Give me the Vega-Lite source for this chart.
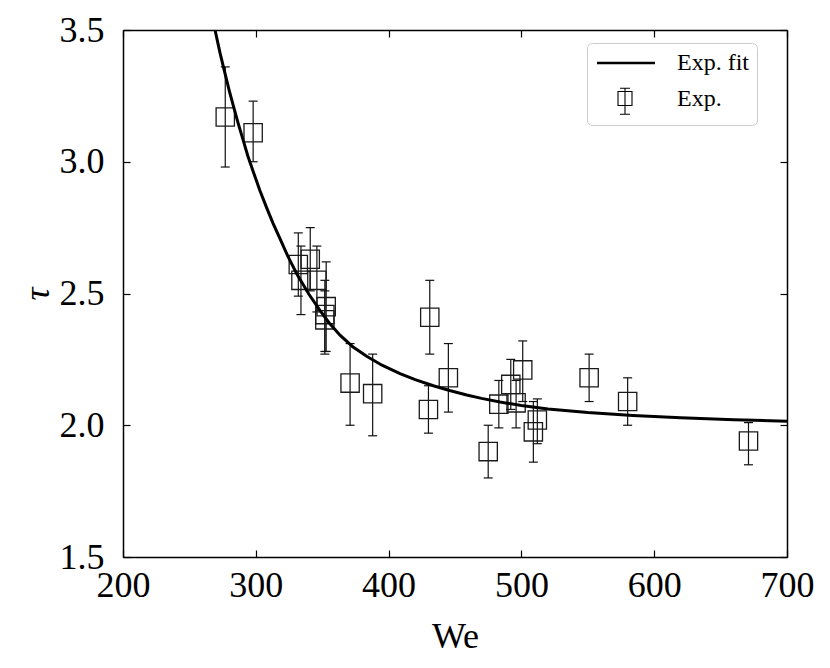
{
  "$schema": "https://vega.github.io/schema/vega-lite/v6.json",
  "width": 664,
  "height": 527,
  "autosize": {"type": "none"},
  "padding": {"left": 123, "top": 30, "right": 43, "bottom": 111},
  "background": "white",
  "config": {
    "view": {"stroke": null},
    "font": "Liberation Serif",
    "axis": {
      "domainColor": "black",
      "domainWidth": 1.5,
      "tickColor": "black",
      "tickWidth": 1.2,
      "tickSize": -7,
      "grid": false,
      "labelFont": "Liberation Serif",
      "labelFontSize": 36,
      "labelColor": "black",
      "titleFont": "Liberation Serif",
      "titleFontSize": 36,
      "titleFontWeight": "normal",
      "titleColor": "black",
      "labelFlush": false,
      "labelOverlap": false
    },
    "legend": {
      "labelFont": "Liberation Serif",
      "labelFontSize": 24,
      "labelColor": "black"
    }
  },
  "datasets": {
    "exp": [
      {"We": 277, "tau": 3.17, "lo": 2.98, "hi": 3.36},
      {"We": 298, "tau": 3.11, "lo": 3.00, "hi": 3.23},
      {"We": 332, "tau": 2.61, "lo": 2.49, "hi": 2.73},
      {"We": 334, "tau": 2.55, "lo": 2.42, "hi": 2.68},
      {"We": 341, "tau": 2.63, "lo": 2.51, "hi": 2.75},
      {"We": 346, "tau": 2.55, "lo": 2.43, "hi": 2.68},
      {"We": 353, "tau": 2.45, "lo": 2.28, "hi": 2.62},
      {"We": 352, "tau": 2.42, "lo": 2.28, "hi": 2.55},
      {"We": 352, "tau": 2.40, "lo": 2.27, "hi": 2.51},
      {"We": 371, "tau": 2.16, "lo": 2.00, "hi": 2.31},
      {"We": 388, "tau": 2.12, "lo": 1.96, "hi": 2.27},
      {"We": 431, "tau": 2.41, "lo": 2.27, "hi": 2.55},
      {"We": 430, "tau": 2.06, "lo": 1.97, "hi": 2.15},
      {"We": 445, "tau": 2.18, "lo": 2.05, "hi": 2.31},
      {"We": 475, "tau": 1.90, "lo": 1.80, "hi": 2.00},
      {"We": 483, "tau": 2.08, "lo": 1.99, "hi": 2.17},
      {"We": 492, "tau": 2.155, "lo": 2.06, "hi": 2.25},
      {"We": 496, "tau": 2.085, "lo": 1.99, "hi": 2.17},
      {"We": 501, "tau": 2.21, "lo": 2.09, "hi": 2.32},
      {"We": 509, "tau": 1.975, "lo": 1.86, "hi": 2.09},
      {"We": 512, "tau": 2.02, "lo": 1.93, "hi": 2.10},
      {"We": 551, "tau": 2.18, "lo": 2.09, "hi": 2.27},
      {"We": 580, "tau": 2.09, "lo": 2.00, "hi": 2.18},
      {"We": 671, "tau": 1.94, "lo": 1.85, "hi": 2.01}
    ],
    "fit": [
      {"We": 269.3, "tau": 3.5},
      {"We": 273, "tau": 3.414},
      {"We": 276.8, "tau": 3.335},
      {"We": 280, "tau": 3.27},
      {"We": 283.1, "tau": 3.212},
      {"We": 287, "tau": 3.141},
      {"We": 290.6, "tau": 3.08},
      {"We": 294, "tau": 3.022},
      {"We": 298.1, "tau": 2.962},
      {"We": 303, "tau": 2.892},
      {"We": 308.2, "tau": 2.825},
      {"We": 313, "tau": 2.766},
      {"We": 318.2, "tau": 2.708},
      {"We": 324, "tau": 2.643},
      {"We": 330.8, "tau": 2.575},
      {"We": 340, "tau": 2.497},
      {"We": 348.3, "tau": 2.436},
      {"We": 355, "tau": 2.39},
      {"We": 363.4, "tau": 2.342},
      {"We": 373, "tau": 2.298},
      {"We": 383.5, "tau": 2.262},
      {"We": 395, "tau": 2.228},
      {"We": 408.6, "tau": 2.196},
      {"We": 420, "tau": 2.173},
      {"We": 433.7, "tau": 2.15},
      {"We": 446, "tau": 2.132},
      {"We": 458.8, "tau": 2.115},
      {"We": 470, "tau": 2.102},
      {"We": 483.9, "tau": 2.088},
      {"We": 500, "tau": 2.075},
      {"We": 520, "tau": 2.062},
      {"We": 550, "tau": 2.048},
      {"We": 584, "tau": 2.037},
      {"We": 620, "tau": 2.028},
      {"We": 660, "tau": 2.021},
      {"We": 700, "tau": 2.015}
    ]
  },
  "layer": [
    {
      "data": {"name": "exp"},
      "mark": {"type": "rule", "color": "#111111", "strokeWidth": 1.2},
      "encoding": {
        "x": {"field": "We", "type": "quantitative", "scale": {"domain": [200, 700], "nice": false, "zero": false}, "axis": null},
        "y": {"field": "lo", "type": "quantitative", "scale": {"domain": [1.5, 3.5], "nice": false, "zero": false}, "axis": null},
        "y2": {"field": "hi"}
      }
    },
    {
      "data": {"name": "exp"},
      "mark": {"type": "tick", "orient": "horizontal", "size": 9, "thickness": 1.2, "color": "#111111", "opacity": 1},
      "encoding": {
        "x": {"field": "We", "type": "quantitative", "axis": null},
        "y": {"field": "lo", "type": "quantitative", "axis": null}
      }
    },
    {
      "data": {"name": "exp"},
      "mark": {"type": "tick", "orient": "horizontal", "size": 9, "thickness": 1.2, "color": "#111111", "opacity": 1},
      "encoding": {
        "x": {"field": "We", "type": "quantitative", "axis": null},
        "y": {"field": "hi", "type": "quantitative", "axis": null}
      }
    },
    {
      "data": {"name": "exp"},
      "mark": {"type": "point", "shape": "square", "filled": false, "size": 335, "stroke": "#1a1a1a", "strokeWidth": 1.3, "opacity": 1},
      "encoding": {
        "x": {"field": "We", "type": "quantitative", "axis": {"orient": "bottom", "values": [200, 300, 400, 500, 600, 700], "format": "d", "title": "We", "labelPadding": 18, "titlePadding": 16}},
        "y": {"field": "tau", "type": "quantitative", "axis": {"orient": "left", "values": [1.5, 2.0, 2.5, 3.0, 3.5], "format": ".1f", "title": "τ", "titleFontStyle": "italic", "labelPadding": 26, "titlePadding": 3}}
      }
    },
    {
      "data": {"name": "fit"},
      "mark": {"type": "line", "color": "black", "strokeWidth": 3, "clip": true},
      "encoding": {
        "x": {"field": "We", "type": "quantitative", "axis": {"orient": "top", "values": [200, 300, 400, 500, 600, 700], "labels": false, "title": null}},
        "y": {"field": "tau", "type": "quantitative", "axis": {"orient": "right", "values": [1.5, 2.0, 2.5, 3.0, 3.5], "labels": false, "title": null}}
      }
    },
    {
      "data": {"values": []},
      "mark": {"type": "point", "filled": false, "color": "black", "opacity": 1},
      "encoding": {
        "shape": {
          "field": "series", "type": "nominal",
          "scale": {"domain": ["Exp. fit", "Exp."], "range": ["M-1.0,0H4.8", "M1.1,-0.7H2.5V0.7H1.1Z M1.8,-1.03V1.57 M1.3,-1.03H2.3 M1.3,1.57H2.3"]},
          "legend": {
            "orient": "none", "legendX": 464, "legendY": 13, "title": null,
            "fillColor": "white", "strokeColor": "#cccccc", "cornerRadius": 5, "padding": 8,
            "symbolSize": 400, "labelOffset": 58, "rowPadding": 10.5,
            "symbolStrokeColor": "black", "symbolFillColor": "transparent", "symbolOpacity": 1
          }
        },
        "strokeWidth": {
          "field": "series", "type": "nominal",
          "scale": {"domain": ["Exp. fit", "Exp."], "range": [2.5, 1.1]},
          "legend": {
            "orient": "none", "legendX": 464, "legendY": 13, "title": null,
            "fillColor": "white", "strokeColor": "#cccccc", "cornerRadius": 5, "padding": 8,
            "symbolSize": 400, "labelOffset": 58, "rowPadding": 10.5,
            "symbolStrokeColor": "black", "symbolFillColor": "transparent", "symbolOpacity": 1
          }
        }
      }
    }
  ],
  "resolve": {"axis": {"x": "independent", "y": "independent"}}
}
